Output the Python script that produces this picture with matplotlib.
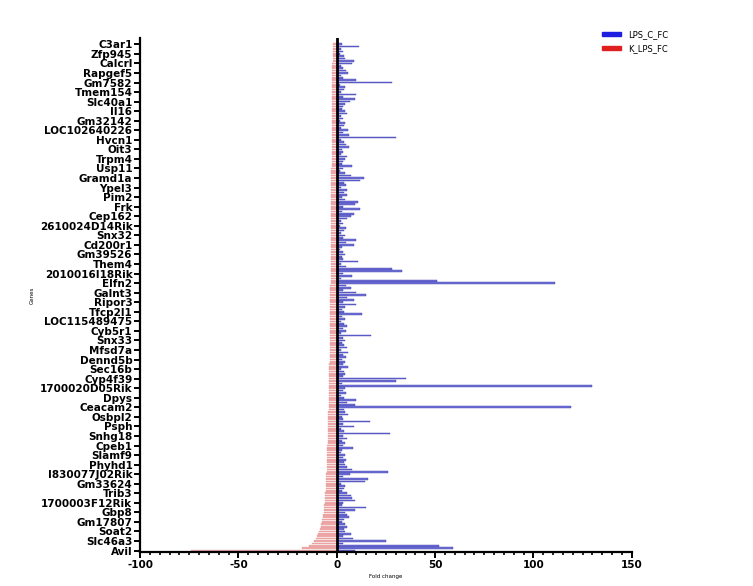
import numpy as np
import matplotlib
matplotlib.use("Agg")
import matplotlib.pyplot as plt
from matplotlib.patches import Patch
from matplotlib.ticker import MultipleLocator

# labelled genes, top to bottom (one label every 4 rows)
tick_genes = ["C3ar1", "Zfp945", "Calcrl", "Rapgef5", "Gm7582", "Tmem154", "Slc40a1",
              "Il16", "Gm32142", "LOC102640226", "Hvcn1", "Oit3", "Trpm4", "Usp11",
              "Gramd1a", "Ypel3", "Pim2", "Frk", "Cep162", "2610024D14Rik", "Snx32",
              "Cd200r1", "Gm39526", "Them4", "2010016I18Rik", "Elfn2", "Galnt3",
              "Ripor3", "Tfcp2l1", "LOC115489475", "Cyb5r1", "Snx33", "Mfsd7a",
              "Dennd5b", "Sec16b", "Cyp4f39", "1700020D05Rik", "Dpys", "Ceacam2",
              "Osbpl2", "Psph", "Snhg18", "Cpeb1", "Slamf9", "Phyhd1", "I830077J02Rik",
              "Gm33624", "Trib3", "1700003F12Rik", "Gbp8", "Gm17807", "Soat2",
              "Slc46a3", "Avil"]

# LPS_C_FC, one value per row, top to bottom
lps_c_fc = [2.5, 11.5, 2, 3, 1.5, 3.5, 4, 8.6, 7.7, 2,
            3, 4.5, 5.5, 2, 3, 9.6, 28, 1.5, 4, 3.5,
            2, 9.8, 3, 9.1, 6.5, 4, 3, 2.5, 4, 5,
            2, 3, 1.5, 4, 3.5, 2, 5.5, 3, 6, 30,
            2, 3.5, 4.5, 6, 2.5, 3, 2, 5, 4, 3,
            2.5, 8, 3, 1.5, 4, 7, 14, 12, 3.5, 4.5,
            2, 5, 3.5, 5, 2.5, 4, 11, 9.5, 3, 12,
            2.5, 8.6, 7, 5, 2, 3, 1.5, 4.5, 3.5, 2,
            4, 3, 10, 4.5, 9, 2.5, 1.5, 3, 4, 2.5,
            3, 11, 2, 4.5, 28, 33, 3, 8, 2, 51,
            111, 4.5, 7.5, 3, 10, 15, 5, 8.6, 3, 10,
            4, 2.5, 3.5, 12.8, 2.5, 4, 2, 3.5, 5, 3,
            4.5, 2, 17.6, 3, 4, 2.5, 3.5, 5, 2, 5.6,
            3, 4.5, 2.5, 4, 3, 5.5, 2, 3.5, 4, 3,
            35, 30, 2.5, 130, 4, 3, 4.5, 2, 3.5, 9.6,
            5, 9.3, 119, 3.5, 4, 5.5, 2.5, 3, 16.8, 3,
            9, 2, 3.5, 27, 3, 5, 2.5, 4, 3, 8.3,
            2.5, 2, 4, 3, 4.5, 3.5, 4, 5, 8, 26,
            6.6, 3, 15.8, 14.5, 2, 4, 3.5, 2.5, 5, 7.5,
            8, 9.5, 3, 2.5, 15, 9.5, 4, 5, 6.4, 3.5,
            2.5, 4, 5, 3.5, 4, 7.5, 3, 8.5, 25, 3,
            52, 59, 9.5]

# K_LPS_FC, one value per row, top to bottom
k_lps_fc = [-2.0, -2.0, -2.0, -2.1, -2.1, -2.1, -2.1, -2.1, -2.2, -2.2,
            -2.2, -2.2, -2.2, -2.2, -2.2, -2.3, -2.3, -2.3, -2.3, -2.3,
            -2.3, -2.3, -2.3, -2.4, -2.4, -2.4, -2.4, -2.4, -2.4, -2.4,
            -2.4, -2.5, -2.5, -2.5, -2.5, -2.5, -2.5, -2.5, -2.5, -2.5,
            -2.5, -2.6, -2.6, -2.6, -2.6, -2.6, -2.6, -2.6, -2.6, -2.6,
            -2.6, -2.6, -2.7, -2.7, -2.7, -2.7, -2.7, -2.7, -2.7, -2.7,
            -2.7, -2.7, -2.8, -2.8, -2.8, -2.8, -2.8, -2.8, -2.8, -2.8,
            -2.8, -2.8, -2.9, -2.9, -2.9, -2.9, -2.9, -2.9, -2.9, -2.9,
            -2.9, -2.9, -3.0, -3.0, -3.0, -3.0, -3.0, -3.0, -3.0, -3.0,
            -3.0, -3.0, -3.1, -3.1, -3.1, -3.1, -3.1, -3.1, -3.1, -3.1,
            -3.1, -3.2, -3.2, -3.2, -3.2, -3.2, -3.2, -3.2, -3.2, -3.3,
            -3.3, -3.3, -3.3, -3.3, -3.3, -3.3, -3.4, -3.4, -3.4, -3.4,
            -3.4, -3.4, -3.4, -3.5, -3.5, -3.5, -3.5, -3.5, -3.5, -3.6,
            -3.6, -3.6, -3.6, -3.6, -3.7, -3.7, -3.7, -3.7, -3.7, -3.8,
            -3.8, -3.8, -3.8, -3.9, -3.9, -3.9, -3.9, -4.0, -4.0, -4.0,
            -4.0, -4.1, -4.1, -4.1, -4.2, -4.2, -4.2, -4.3, -4.3, -4.3,
            -4.4, -4.4, -4.4, -4.5, -4.5, -4.5, -4.6, -4.6, -4.7, -4.7,
            -4.8, -4.8, -4.9, -4.9, -5.0, -5.0, -5.1, -5.1, -5.2, -5.2,
            -5.3, -5.3, -5.4, -5.5, -5.5, -5.6, -5.7, -5.7, -5.8, -5.9,
            -6.0, -6.1, -6.2, -6.3, -6.4, -6.5, -6.7, -6.9, -7.1, -7.3,
            -7.5, -7.8, -8.1, -8.5, -8.9, -9.4, -10.0, -10.7, -11.5, -12.6,
            -14.0, -17.5, -74.0]

n = len(lps_c_fc)
rows = np.arange(n)

fig, ax = plt.subplots(figsize=(7.53, 5.86), dpi=100)
fig.subplots_adjust(left=0.186, right=0.839, bottom=0.058, top=0.935)

ax.barh(rows, lps_c_fc, height=0.68, color="#7070d6", edgecolor="#3c3cb0", linewidth=0.3)
ax.barh(rows, k_lps_fc, height=0.68, color="#eeaaaa", edgecolor="#e09090", linewidth=0.2)
ax.axvline(0, color="black", linewidth=2.0, zorder=3)

ax.set_xlim(-100, 150)
ax.set_ylim(n - 0.4, -2.6)
ax.set_yticks(rows[::4])
ax.set_yticklabels(tick_genes, fontsize=7.5, fontweight="bold", family="DejaVu Sans")
ax.set_xticks([-100, -50, 0, 50, 100, 150])
ax.set_xticklabels(["-100", "-50", "0", "50", "100", "150"], fontsize=7.5,
                   fontweight="bold")
ax.xaxis.set_minor_locator(MultipleLocator(5))

for s in ["top", "right"]:
    ax.spines[s].set_visible(False)
for s in ["left", "bottom"]:
    ax.spines[s].set_linewidth(1.6)
ax.tick_params(axis="both", which="major", length=4, width=1.4, pad=1.5)
ax.tick_params(axis="x", which="minor", length=2.5, width=1.2)

ax.set_xlabel("Fold change", fontsize=4, labelpad=3)
ax.set_ylabel("Genes", fontsize=4)
ax.yaxis.set_label_coords(-0.215, 0.5)

handles = [Patch(color="#1e1ee0", label="LPS_C_FC"),
           Patch(color="#e02020", label="K_LPS_FC")]
ax.legend(handles=handles, loc="upper left", bbox_to_anchor=(0.925, 1.03),
          frameon=False, fontsize=6, handlelength=2.2, handleheight=0.45,
          labelspacing=0.6, handletextpad=0.9)

fig.savefig("out.png", dpi=100)
